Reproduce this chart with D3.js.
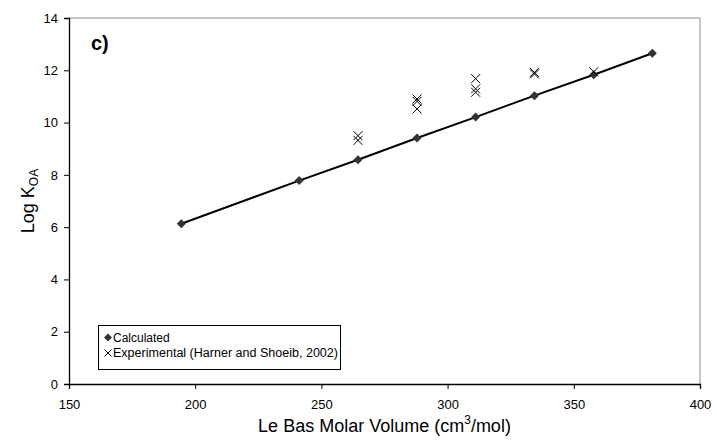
<!DOCTYPE html>
<html lang="en">
<head>
    <meta charset="UTF-8">
    <title>Log KOA vs Le Bas Molar Volume</title>
    <script src="https://d3js.org/d3.v7.min.js"></script>
    <style>
        body { margin: 0; background: #fff; }
        text { font-family: "Liberation Sans", Arial, sans-serif; }
    </style>
</head>
<body>
<script>
    const width = 717
    const height = 445

    // calculated series
    const calcVolume = [194.5, 241.2, 264.5, 287.9, 311.1, 334.4, 357.9, 381.1]
    const calcLogKoa = [6.13, 7.78, 8.58, 9.41, 10.21, 11.03, 11.83, 12.65]

    // experimental (Harner and Shoeib, 2002)
    const expVolume = [264.5, 264.5, 287.9, 287.9, 287.9, 311.1, 311.1, 311.1, 334.4, 334.4, 357.9]
    const expLogKoa = [9.50, 9.32, 10.90, 10.81, 10.52, 11.68, 11.29, 11.16, 11.92, 11.86, 11.94]

    const xTicks = [150, 200, 250, 300, 350, 400]
    const yTicks = [0, 2, 4, 6, 8, 10, 12, 14]

    const margin = {left: 69, right: 17, top: 18, bottom: 61}

    let svg = d3.select("body").append("svg")
        .attr("width", width)
        .attr("height", height)

    const x = d3.scaleLinear().domain([150, 400]).range([margin.left, width - margin.right])
    const y = d3.scaleLinear().domain([0, 14]).range([height - margin.bottom, margin.top])

    // plot frame (top/right grey)
    svg.append("path")
        .attr("d", `M${x(150)},${y(14)}H${x(400)}V${y(0)}`)
        .attr("fill", "none")
        .attr("stroke", "#8c8c8c")
        .attr("stroke-width", 1)

    let xAxis = svg.append("g")
        .attr("transform", `translate(0,${y(0)})`)
        .call(d3.axisBottom(x).tickValues(xTicks).tickSize(5).tickPadding(11))
    let yAxis = svg.append("g")
        .attr("transform", `translate(${x(150)},0)`)
        .call(d3.axisLeft(y).tickValues(yTicks).tickSize(5).tickPadding(6))

    ;[xAxis, yAxis].forEach(g => {
        g.select(".domain").attr("stroke", "#000").attr("stroke-width", 1.3)
        g.selectAll(".tick line").attr("stroke", "#000")
        g.selectAll(".tick text")
            .attr("font-size", 13)
            .attr("fill", "#000")
            .style("font-family", "Liberation Sans, Arial, sans-serif")
    })

    const calc = calcVolume.map((v, i) => ({v: v, k: calcLogKoa[i]}))
    const exper = expVolume.map((v, i) => ({v: v, k: expLogKoa[i]}))

    // calculated line
    svg.append("path")
        .datum(calc)
        .attr("d", d3.line().x(d => x(d.v)).y(d => y(d.k)))
        .attr("fill", "none")
        .attr("stroke", "#000")
        .attr("stroke-width", 2)

    const diamond = "M0,-4.5L4.5,0L0,4.5L-4.5,0Z"
    svg.selectAll(".calc")
        .data(calc)
        .enter()
        .append("path")
        .attr("class", "calc")
        .attr("transform", d => `translate(${x(d.v)},${y(d.k)})`)
        .attr("d", diamond)
        .attr("fill", "#333")

    const cross = "M-4.5,-4.5L4.5,4.5M-4.5,4.5L4.5,-4.5"
    svg.selectAll(".exp")
        .data(exper)
        .enter()
        .append("path")
        .attr("class", "exp")
        .attr("transform", d => `translate(${x(d.v)},${y(d.k)})`)
        .attr("d", cross)
        .attr("stroke", "#000")
        .attr("stroke-width", 1)
        .attr("fill", "none")

    // panel label
    svg.append("text")
        .attr("x", 91)
        .attr("y", 50)
        .attr("font-size", 20)
        .attr("font-weight", "bold")
        .text("c)")

    // legend
    let legend = svg.append("g")
    legend.append("rect")
        .attr("x", 98.5).attr("y", 325.5)
        .attr("width", 242).attr("height", 44)
        .attr("fill", "#fff")
        .attr("stroke", "#000")
        .attr("stroke-width", 1)
    legend.append("path")
        .attr("transform", "translate(108,337.5)")
        .attr("d", "M0,-4L4,0L0,4L-4,0Z")
        .attr("fill", "#333")
    legend.append("text")
        .attr("x", 113).attr("y", 342)
        .attr("font-size", 12)
        .text("Calculated")
    legend.append("path")
        .attr("transform", "translate(108,353)")
        .attr("d", "M-3.5,-3.5L3.5,3.5M-3.5,3.5L3.5,-3.5")
        .attr("stroke", "#000")
        .attr("fill", "none")
    legend.append("text")
        .attr("x", 113).attr("y", 357)
        .attr("font-size", 12)
        .attr("textLength", 225)
        .attr("lengthAdjust", "spacingAndGlyphs")
        .text("Experimental (Harner and Shoeib, 2002)")

    // axis titles
    let xTitle = svg.append("text")
        .attr("x", (x(150) + x(400)) / 2)
        .attr("y", 432)
        .attr("text-anchor", "middle")
        .attr("font-size", 18)
    xTitle.append("tspan").text("Le Bas Molar Volume (cm")
    xTitle.append("tspan").attr("font-size", 12).attr("dy", -8).text("3")
    xTitle.append("tspan").attr("dy", 8).text("/mol)")

    let yTitle = svg.append("text")
        .attr("transform", `translate(34,${(y(0) + y(14)) / 2}) rotate(-90)`)
        .attr("text-anchor", "middle")
        .attr("font-size", 18)
    yTitle.append("tspan").text("Log K")
    yTitle.append("tspan").attr("font-size", 12).attr("dy", 4).text("OA")
</script>
</body>
</html>
